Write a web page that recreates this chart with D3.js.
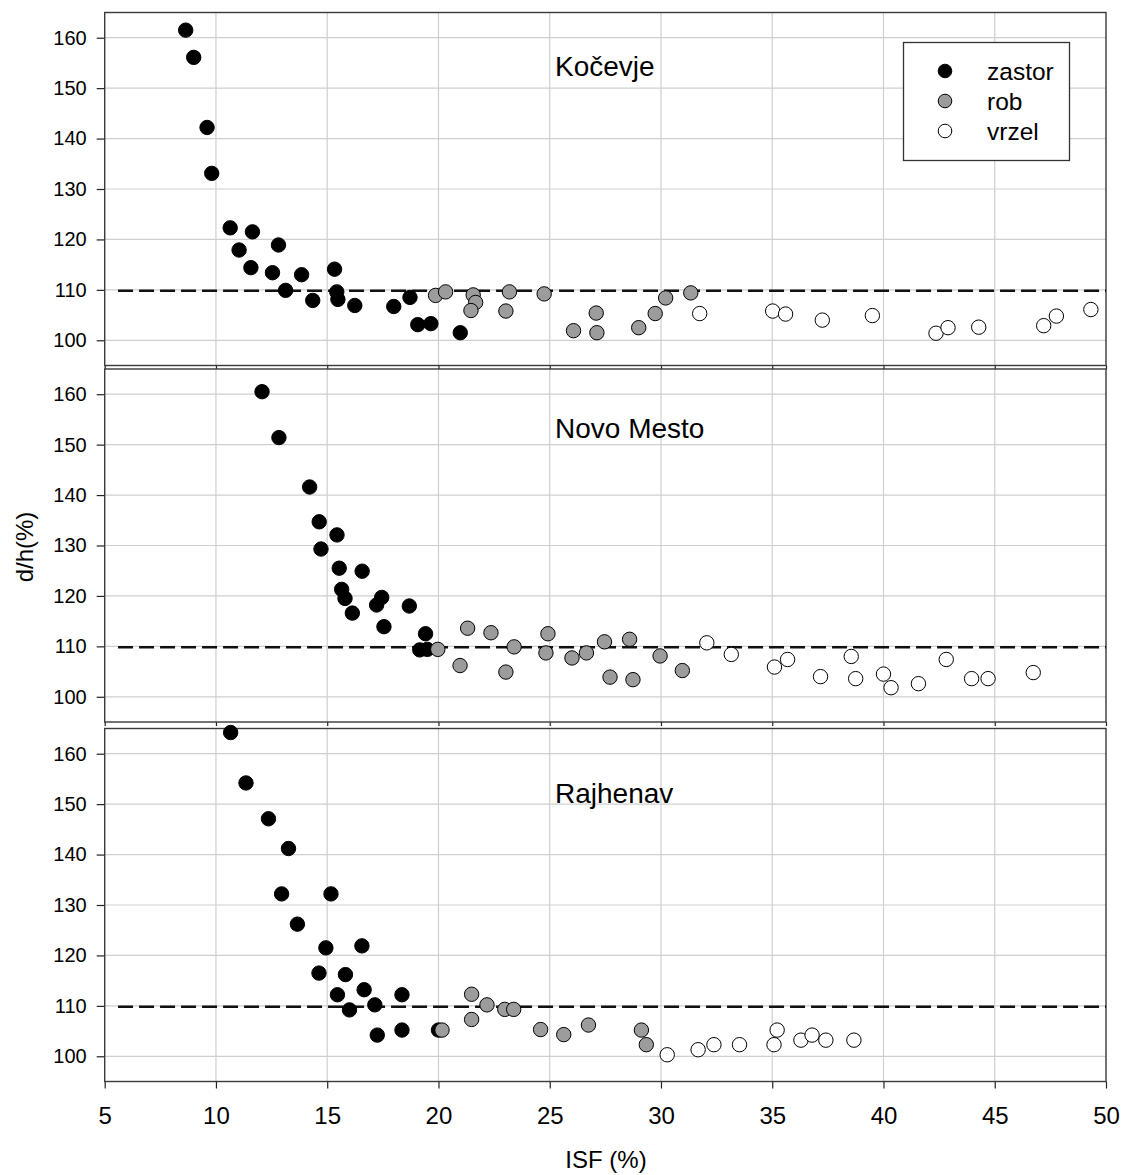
<!DOCTYPE html>
<html>
<head>
<meta charset="utf-8">
<script src="https://d3js.org/d3.v7.min.js"></script>
<style>
body{margin:0;background:#fff;}
text{font-family:"Liberation Sans",Arial,sans-serif;fill:#000;}
</style>
</head>
<body>
<script>
//DATA - [ISF %, d/h %]

var panelNames=["Kočevje","Novo Mesto","Rajhenav"];
var categories=["zastor","rob","vrzel"];

var kocevjeZastor=[[8.64,161.5],[9.0,156.1],[9.6,142.2],[9.81,133.1],[10.64,122.3],[11.04,117.9],[11.64,121.5],[11.57,114.4],[12.54,113.4],[12.81,118.9],[13.13,109.9],[13.85,113.0],[14.35,107.9],[15.33,114.1],[15.43,109.6],[15.48,108.1],[16.24,106.9],[17.99,106.7],[18.72,108.5],[19.07,103.1],[19.66,103.3],[20.98,101.5]];
var kocevjeRob=[[19.87,108.9],[20.32,109.6],[21.56,109.0],[21.67,107.5],[21.46,105.9],[23.03,105.8],[23.19,109.6],[24.75,109.2],[26.07,101.9],[27.09,105.4],[27.12,101.5],[29.0,102.5],[29.74,105.3],[30.21,108.4],[31.34,109.4]];
var kocevjeVrzel=[[31.74,105.3],[35.02,105.8],[35.6,105.2],[37.25,104.0],[39.5,104.9],[42.36,101.4],[42.9,102.5],[44.28,102.6],[47.2,102.9],[47.77,104.8],[49.32,106.1]];

var novoZastor=[[12.07,160.5],[12.83,151.4],[14.21,141.6],[14.64,134.7],[14.72,129.3],[15.44,132.1],[15.54,125.5],[15.65,121.3],[15.8,119.5],[16.13,116.6],[16.57,124.9],[17.22,118.2],[17.45,119.7],[17.55,113.9],[18.69,118.0],[19.42,112.5],[19.16,109.3],[19.5,109.4]];
var novoRob=[[19.97,109.4],[20.97,106.2],[21.31,113.6],[22.36,112.7],[23.03,104.9],[23.4,109.9],[24.83,108.7],[24.92,112.5],[26.0,107.7],[26.65,108.7],[27.46,110.9],[27.71,103.9],[28.59,111.4],[28.74,103.4],[29.96,108.1],[30.96,105.2]];
var novoVrzel=[[32.06,110.7],[33.16,108.4],[35.1,105.9],[35.69,107.4],[37.17,104.0],[38.55,108.0],[38.75,103.6],[40.0,104.5],[40.34,101.8],[41.57,102.6],[42.82,107.4],[43.96,103.6],[44.7,103.6],[46.73,104.8]];

var rajZastor=[[10.66,164.2],[11.35,154.2],[12.36,147.1],[13.26,141.2],[12.95,132.2],[15.17,132.2],[13.66,126.2],[14.94,121.5],[16.56,121.9],[14.63,116.5],[15.82,116.2],[15.46,112.2],[16.66,113.2],[16.0,109.2],[17.14,110.2],[17.25,104.2],[18.36,112.2],[18.36,105.2],[20.0,105.2]];
var rajRob=[[20.16,105.2],[21.49,112.3],[21.49,107.3],[22.18,110.2],[22.98,109.3],[23.38,109.3],[24.59,105.3],[25.63,104.3],[26.74,106.2],[29.12,105.2],[29.34,102.3]];
var rajVrzel=[[30.28,100.3],[31.67,101.3],[32.38,102.3],[33.53,102.3],[35.22,105.2],[35.08,102.3],[36.29,103.2],[36.79,104.2],[37.41,103.2],[38.67,103.2]];

var xTicks=[5,10,15,20,25,30,35,40,45,50];
var yTicks=[100,110,120,130,140,150,160];
var refValue=109.8; //the dashed line
var refStart=5.6;

//LAYOUT
var width=1124, height=1175;
var left=104.7, right=1106;
var panelTop=[12.5,369,728.5];
var panelHeight=353;
var labelOffset=[63,69,74]; //baseline of the site name below the panel top

var fills={zastor:"#000000",rob:"#9c9c9c",vrzel:"#ffffff"};

var panels=[
	{name:panelNames[0],sets:[kocevjeZastor,kocevjeRob,kocevjeVrzel]},
	{name:panelNames[1],sets:[novoZastor,novoRob,novoVrzel]},
	{name:panelNames[2],sets:[rajZastor,rajRob,rajVrzel]}
];

var svg=d3.select("body")
	.append("svg")
	.attr("width",width)
	.attr("height",height)
	.style("background","#fff");

var x=d3.scaleLinear().domain([5,50]).range([left,right]);

panels.forEach(function(p,k){
	var top=panelTop[k];
	var y=d3.scaleLinear().domain([95,165]).range([top+panelHeight,top]);
	var g=svg.append("g").attr("class","panel");

	//white background covers ticks of the panel above
	g.append("rect")
		.attr("x",left).attr("y",top)
		.attr("width",right-left).attr("height",panelHeight)
		.attr("fill","#fff");

	//grid lines
	g.selectAll(".vgrid")
		.data(xTicks.slice(1,-1))
		.enter().append("line")
		.attr("x1",function(d){return x(d);})
		.attr("x2",function(d){return x(d);})
		.attr("y1",top).attr("y2",top+panelHeight)
		.attr("stroke","#cfcfcf").attr("stroke-width",1.2);
	g.selectAll(".hgrid")
		.data(yTicks)
		.enter().append("line")
		.attr("x1",left).attr("x2",right)
		.attr("y1",function(d){return y(d);})
		.attr("y2",function(d){return y(d);})
		.attr("stroke","#cfcfcf").attr("stroke-width",1.2);

	//y axis
	var yAxis=g.append("g")
		.attr("transform","translate("+left+",0)")
		.call(d3.axisLeft(y).tickValues(yTicks).tickSize(8).tickPadding(10));
	yAxis.select(".domain").remove();
	yAxis.selectAll("line").attr("stroke","#222").attr("stroke-width",1.2);
	yAxis.selectAll("text").style("font-size","20px").attr("fill","#000");

	//x axis - labels only on the bottom panel
	var last=(k==panels.length-1);
	var xAxis=g.append("g")
		.attr("transform","translate(0,"+(top+panelHeight)+")")
		.call(d3.axisBottom(x).tickValues(xTicks).tickSize(last?7:4).tickPadding(18)
			.tickFormat(last?d3.format("d"):function(){return "";}));
	xAxis.select(".domain").remove();
	xAxis.selectAll("line").attr("stroke","#222").attr("stroke-width",1.2);
	xAxis.selectAll("text").style("font-size","24px").attr("fill","#000");

	//frame
	g.append("rect")
		.attr("x",left).attr("y",top)
		.attr("width",right-left).attr("height",panelHeight)
		.attr("fill","none").attr("stroke","#3a3a3a").attr("stroke-width",1.4);

	//dashed reference line
	g.append("line")
		.attr("x1",x(refStart)).attr("x2",x(50))
		.attr("y1",y(refValue)).attr("y2",y(refValue))
		.attr("stroke","#111").attr("stroke-width",2.5)
		.attr("stroke-dasharray","15,6");

	//points: zastor first, then rob, then vrzel on top
	p.sets.forEach(function(set,c){
		g.selectAll(".pt"+c)
			.data(set)
			.enter().append("circle")
			.attr("cx",function(d){return x(d[0]);})
			.attr("cy",function(d){return y(d[1]);})
			.attr("r",7.2)
			.attr("fill",fills[categories[c]])
			.attr("stroke","#000").attr("stroke-width",1);
	});

	//site name
	g.append("text")
		.attr("x",555)
		.attr("y",top+labelOffset[k])
		.text(p.name)
		.style("font-size","28px");
});

//LEGEND in the top panel
var legend=svg.append("g").attr("id","legend");
legend.append("rect")
	.attr("x",903.5).attr("y",42.5)
	.attr("width",166).attr("height",118)
	.attr("fill","#fff").attr("stroke","#333").attr("stroke-width",1.3);
legend.selectAll("circle")
	.data(categories)
	.enter().append("circle")
	.attr("cx",945)
	.attr("cy",function(d,i){return 71+i*30;})
	.attr("r",6.8)
	.attr("fill",function(d){return fills[d];})
	.attr("stroke","#000").attr("stroke-width",1);
legend.selectAll("text")
	.data(categories)
	.enter().append("text")
	.attr("x",987)
	.attr("y",function(d,i){return 71+i*30;})
	.attr("dy","0.38em")
	.text(function(d){return d;})
	.style("font-size","24.5px");

//AXIS TITLES
svg.append("text")
	.attr("transform","translate(33,547) rotate(-90)")
	.attr("text-anchor","middle")
	.text("d/h(%)")
	.style("font-size","24px");
svg.append("text")
	.attr("x",606).attr("y",1168)
	.attr("text-anchor","middle")
	.text("ISF (%)")
	.style("font-size","24px");
</script>
</body>
</html>
